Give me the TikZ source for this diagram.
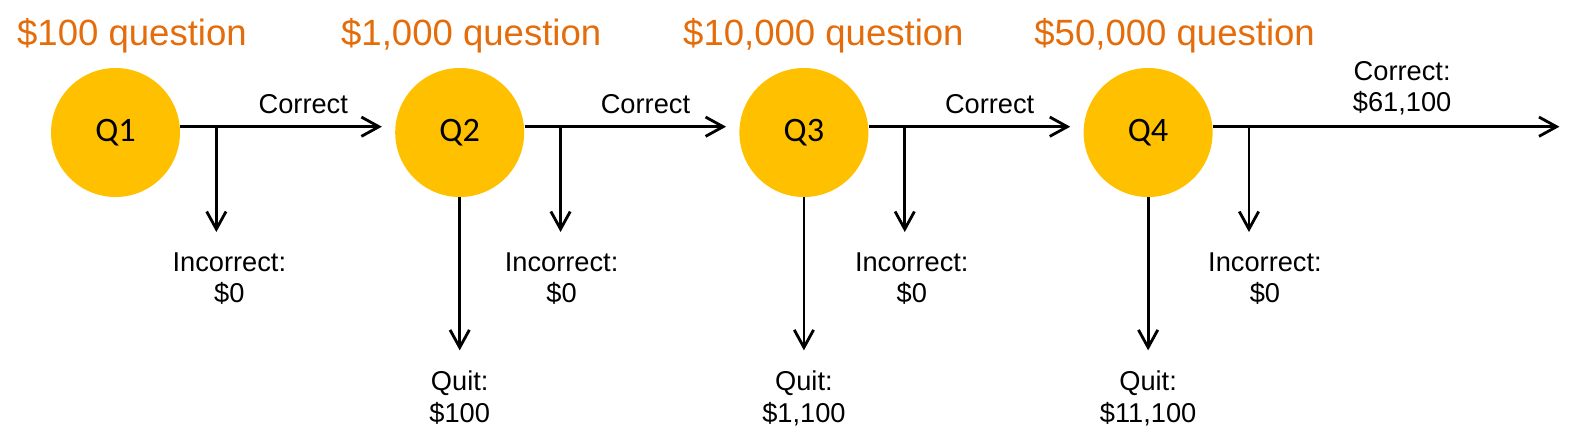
\documentclass[tikz,border=0pt]{standalone}
\usepackage{fontspec}
\setmainfont{Liberation Sans}
\newfontfamily\qfont{Carlito}
\usepackage{tikz}
\usepackage{xcolor}
\usetikzlibrary{positioning}
\usetikzlibrary{arrows.meta,calc}

\definecolor{qyellow}{HTML}{FFC000}
\definecolor{qorange}{HTML}{E46C0A}

\begin{document}
\begin{tikzpicture}[%
  >={Straight Barb[length=10pt,width=11pt]},
  qnode/.style={circle, fill=qyellow, minimum size=2.58cm, inner sep=0pt, font=\qfont\fontsize{19.5pt}{20pt}\selectfont},
  qtitle/.style={text=qorange, anchor=base, inner sep=0pt, font=\fontsize{20.8pt}{24pt}\selectfont},
  lbl/.style={align=center, inner sep=0pt, font=\fontsize{15.5pt}{18pt}\selectfont},
  flow/.style={->, line width=1.6pt},
  node distance=4.29cm
]
\useasboundingbox (0,0) rectangle (31.44,-8.82);
\node[qnode] (q1) at (2.31,-2.65) {Q1};
\node[qnode, right=of q1] (q2) {Q2};
\node[qnode, right=of q2] (q3) {Q3};
\node[qnode, right=of q3] (q4) {Q4};
% titles
\node[qtitle] (t1) at ([xshift=0.33cm,yshift=0.45cm]q1.north) {\$100 question};
\node[qtitle] (t2) at ([xshift=0.23cm,yshift=0.45cm]q2.north) {\$1,000 question};
\node[qtitle] (t3) at ([xshift=0.39cm,yshift=0.45cm]q3.north) {\$10,000 question};
\node[qtitle] (t4) at ([xshift=0.53cm,yshift=0.45cm]q4.north) {\$50,000 question};
% correct
\coordinate (s1) at ([yshift=0.116cm]q1.east);
\coordinate (s2) at ([yshift=0.116cm]q2.east);
\coordinate (s3) at ([yshift=0.116cm]q3.east);
\coordinate (s4) at ([yshift=0.116cm]q4.east);
\coordinate (e4) at ([xshift=6.93cm]s4);
\draw[flow] (s1) -- ([xshift=-0.26cm,yshift=0.116cm]q2.west) node[lbl, pos=.61, above=0.24cm] (c1) {Correct};
\draw[flow] (s2) -- ([xshift=-0.26cm,yshift=0.116cm]q3.west) node[lbl, pos=.6, above=0.24cm] (c2) {Correct};
\draw[flow] (s3) -- ([xshift=-0.26cm,yshift=0.116cm]q4.west) node[lbl, pos=.6, above=0.24cm] (c3) {Correct};
\draw[flow] (s4) -- (e4) node[lbl, pos=.546, above=0.2cm] (c4) {Correct:\\\$61,100};
% incorrect
\coordinate (b1) at ([xshift=0.72cm]s1);
\coordinate (b2) at ([xshift=0.72cm]s2);
\coordinate (b3) at ([xshift=0.72cm]s3);
\coordinate (b4) at ([xshift=0.72cm]s4);
\node[lbl, below=2.506cm of b1, xshift=0.26cm] (i1) {Incorrect:\\\$0};
\node[lbl, below=2.506cm of b2, xshift=0.02cm] (i2) {Incorrect:\\\$0};
\node[lbl, below=2.506cm of b3, xshift=0.14cm] (i3) {Incorrect:\\\$0};
\node[lbl, below=2.506cm of b4, xshift=0.32cm] (i4) {Incorrect:\\\$0};
\draw[flow, shorten >=0.4cm] (b1) -- (b1 |- i1.north);
\draw[flow, shorten >=0.4cm] (b2) -- (b2 |- i2.north);
\draw[flow, shorten >=0.4cm] (b3) -- (b3 |- i3.north);
\draw[flow, shorten >=0.4cm] (b4) -- (b4 |- i4.north);
% quit
\node[lbl, below=3.46cm of q2] (x2) {Quit:\\\$100};
\node[lbl, below=3.46cm of q3] (x3) {Quit:\\\$1,100};
\node[lbl, below=3.46cm of q4] (x4) {Quit:\\\$11,100};
\draw[flow, shorten >=0.4cm] (q2) -- (x2);
\draw[flow, shorten >=0.4cm] (q3) -- (x3);
\draw[flow, shorten >=0.4cm] (q4) -- (x4);
\end{tikzpicture}
\end{document}
